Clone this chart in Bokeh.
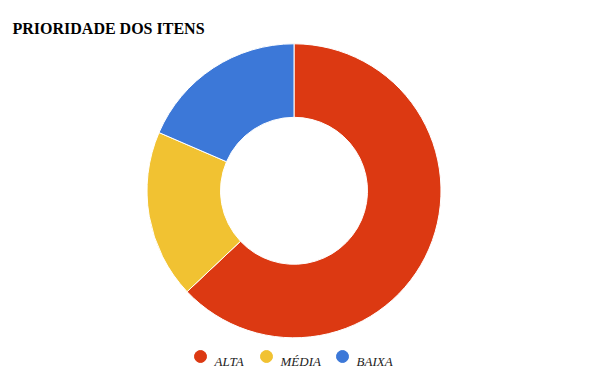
import math
from bokeh.plotting import figure
from bokeh.models import Range1d, ColumnDataSource
from bokeh.core.properties import value
from bokeh.embed import file_html
from bokeh.resources import INLINE

# data
categories = ["ALTA", "MÉDIA", "BAIXA"]
counts = [17, 5, 5]
colors = ["#DC3912", "#F1C232", "#3C78D8"]
title_text = "PRIORIDADE DOS ITENS"

W, H = 590, 378
p = figure(width=W, height=H, output_backend="svg", toolbar_location=None,
           x_range=Range1d(0, W), y_range=Range1d(0, H), min_border=0)
p.axis.visible = False
p.grid.visible = False
p.outline_line_color = None
p.background_fill_color = "white"
p.border_fill_color = "white"

total = sum(counts)
starts, ends = [], []
acc = 0
for c in counts:
    starts.append(math.pi / 2 - 2 * math.pi * acc / total)
    acc += c
    ends.append(math.pi / 2 - 2 * math.pi * acc / total)

cx, cy = 293.5, H - 190.3
src = ColumnDataSource(dict(cat=categories, start=starts, end=ends, color=colors))
p.annular_wedge(x=cx, y=cy, inner_radius=73.5, outer_radius=147,
                start_angle="start", end_angle="end", direction="clock",
                fill_color="color", line_color="white", line_width=1, source=src)

# title
p.text(x=[12], y=[H - 28], text=[title_text], text_font=value("Liberation Serif"),
       text_font_style="bold", text_font_size="16px", text_color="#000000",
       text_baseline="alphabetic", text_align="left")

# legend
leg_x = [200, 266, 342]
leg_y = H - 356
p.scatter(x=leg_x, y=[leg_y] * 3, size=12, color=colors, marker="circle")
p.text(x=[x + 14 for x in leg_x], y=[leg_y - 4.5] * 3, text=categories,
       text_font=value("Liberation Serif"), text_font_style="italic",
       text_font_size="13px", text_color="#222222",
       text_baseline="alphabetic", text_align="left")

open("out.html", "w").write(file_html(p, INLINE))
